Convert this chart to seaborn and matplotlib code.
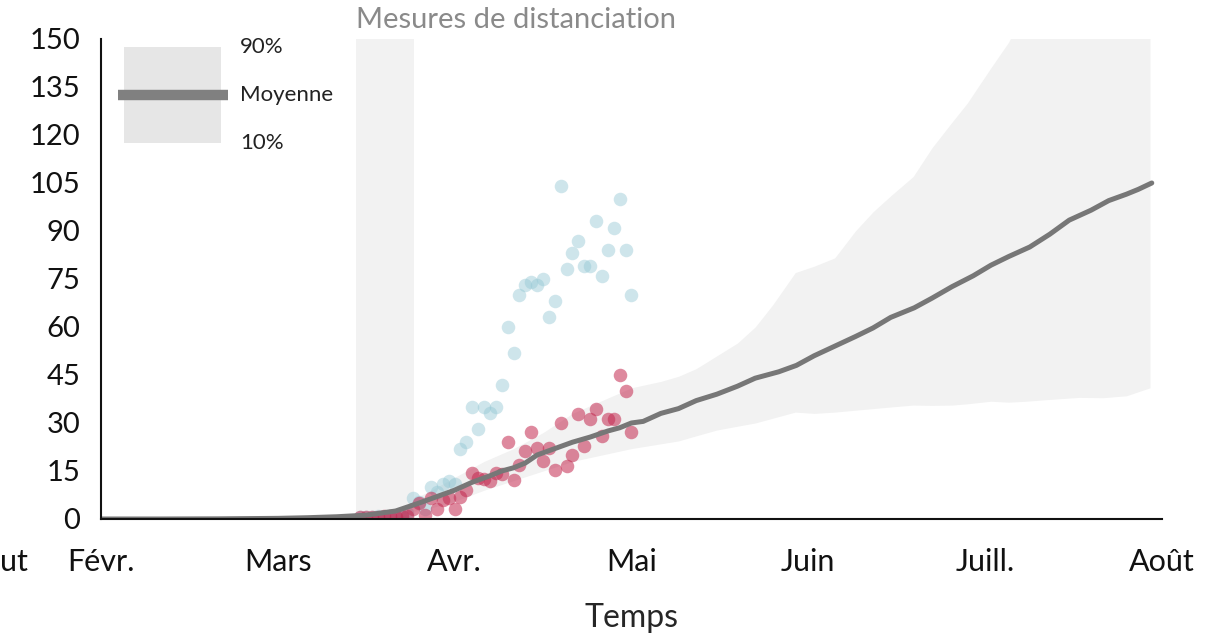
import numpy as np
import pandas as pd
import matplotlib
matplotlib.use("Agg")
import matplotlib.pyplot as plt
from matplotlib.patches import Rectangle
import seaborn as sns

# days since 1 Feb (30-day months on the axis)
month_labels = ["Févr.", "Mars", "Avr.", "Mai", "Juin", "Juill.", "Août"]
month_pos = [0, 30, 60, 90, 120, 150, 180]

# mean projection
mean_days = [0, 10, 20, 30, 35, 40, 45, 50, 54, 57, 60, 63, 66, 68, 70, 72, 74, 77, 80, 83,
             86, 88, 90, 92, 95, 98, 101, 104.5, 108, 111, 115, 118, 121, 124.5, 128, 131,
             134, 138, 141, 144.4, 148, 151, 154, 157.6, 161, 164.3, 168, 171, 174, 176, 178.3]
mean_vals = [0, 0, 0.05, 0.2, 0.4, 0.7, 1.2, 2.5, 5, 7, 9, 11.5, 13.5, 15, 16, 17.5, 20, 22, 24, 25.6,
             27.5, 28.5, 30, 30.5, 33, 34.5, 37, 39, 41.5, 44, 46, 48, 51, 54, 57, 59.7,
             63, 66, 69, 72.6, 76, 79.3, 82, 85, 89, 93.4, 96.5, 99.5, 101.5, 103, 105]

# 10% / 90% band
band_days = [45, 50, 55, 60, 65, 70, 75, 80, 85, 90, 95, 98, 101, 104.5, 108, 111, 114, 117.8,
             121, 124.5, 128, 131, 134, 137.8, 141, 144.4, 147, 151, 154, 157, 162, 166, 170, 174, 178]
band_low = [1, 1.5, 3, 5.5, 9, 12, 15, 18, 20, 22, 23.5, 24.4, 26, 27.8, 29, 30, 31.5, 33.4,
            33, 33.4, 34, 34.5, 35, 35.6, 35.5, 35.6, 36, 36.8, 36.5, 36.8, 37.5, 38, 37.9, 38.5, 41]
band_high = [1.5, 4, 8, 13, 18, 22, 27, 33, 37, 41, 43, 44.6, 47, 51, 55, 60, 67, 77,
             79, 81.6, 90, 96, 101, 107, 116, 124, 130, 141, 149, 160, 170, 175, 178, 180, 185]

# observed data
obs_days = list(range(44, 91))
obs_blue = [0.5, 0.5, 0.5, 1, 0.5, 1, 1, 1, 2, 6.5, 5.4, 3, 10, 8.5, 11, 12, 11, 22, 24, 35,
            28, 35, 33, 35, 42, 60, 52, 70, 73, 74, 73, 75, 63, 68, 104, 78, 83, 87, 79, 79,
            93, 76, 84, 91, 100, 84, 70]
obs_red = [0.5, 0.5, 0.5, 0.5, 1, 1, 0.5, 1, 1, 3, 5, 1.2, 6.6, 3, 6, 6.6, 3, 7, 9, 14.3,
           12.8, 12.5, 12, 14.5, 14, 24.2, 12.2, 17, 21.2, 27.1, 22.1, 18.1, 22.1, 15.3, 29.9, 16.6,
           20, 32.8, 22.9, 31.2, 34.3, 26, 31.2, 31.2, 45, 40, 27.1]

distancing = (43.3, 53.1)

sns.set_style("white")
plt.rcParams['font.family'] = ['Lato', 'DejaVu Sans']

fig = plt.figure(figsize=(12.14, 6.34), dpi=100)
ax = fig.add_axes([0.0832, 0.1814, 0.957 - 0.0832, 0.9385 - 0.1814])

ax.axvspan(*distancing, color="#f2f2f2", lw=0, zorder=0)
ax.fill_between(band_days, band_low, band_high, color="#f2f2f2", lw=0, zorder=1)

obs = pd.DataFrame({"day": obs_days, "blue": obs_blue, "red": obs_red})
sns.scatterplot(data=obs, x="day", y="blue", color="#93c7d4", alpha=0.45, s=95,
                linewidth=0, ax=ax, zorder=2)
sns.scatterplot(data=obs, x="day", y="red", color="#c3284f", alpha=0.55, s=95,
                linewidth=0, ax=ax, zorder=3)

mean = pd.DataFrame({"day": mean_days, "mean": mean_vals})
sns.lineplot(data=mean, x="day", y="mean", color="#777777", lw=3.6, ax=ax, zorder=4)

ax.set_xlim(0, 180)
ax.set_ylim(0, 150)
ax.set_xticks(month_pos)
ax.set_xticklabels(month_labels)
ax.set_yticks(np.arange(0, 151, 15))
ax.set_xlabel("Temps", fontsize=23, labelpad=19)
ax.set_ylabel("")
ax.tick_params(axis="both", direction="out", length=10, width=1.5,
               color="#111111", labelcolor="#111111")
ax.tick_params(axis="y", labelsize=21, pad=5)
ax.tick_params(axis="x", labelsize=22, pad=11)
for side in ["top", "right"]:
    ax.spines[side].set_visible(False)
for side in ["left", "bottom"]:
    ax.spines[side].set_color("#111111")
    ax.spines[side].set_linewidth(1.5)
    ax.spines[side].set_zorder(5)

ax.text(distancing[0], 1.04, "Mesures de distanciation", transform=ax.get_xaxis_transform(),
        fontsize=21, color="#8a8a8a", ha="left", va="center")

# legend
ax.add_patch(Rectangle((0.0217, 0.783), 0.0914, 0.200, transform=ax.transAxes,
                       color="#e6e6e6", lw=0, zorder=6))
ax.plot([0.016, 0.1197], [0.883, 0.883], transform=ax.transAxes, color="#808080",
        lw=7.5, solid_capstyle="butt", zorder=7)
for yy, lab in [(0.983, "90%"), (0.883, "Moyenne"), (0.783, "10%")]:
    ax.text(0.131, yy, lab, transform=ax.transAxes, fontsize=16, color="#222222",
            ha="left", va="center")

fig.text(0.0, 0.1136, "ut", fontsize=22, color="#111111", ha="left", va="center")

fig.savefig("out.png", dpi=100)
